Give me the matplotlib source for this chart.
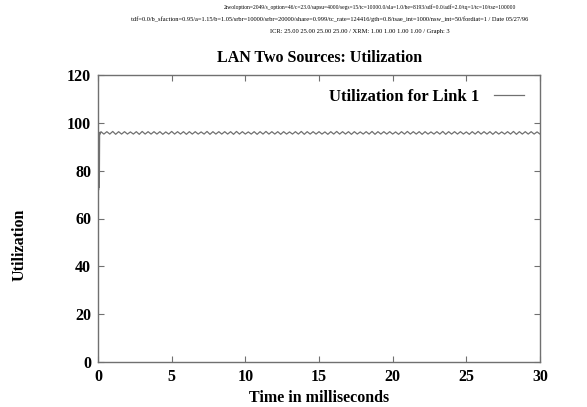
import matplotlib
matplotlib.use("Agg")
import matplotlib.pyplot as plt

plt.rcParams['font.family'] = ['Liberation Serif', 'DejaVu Serif']

header_lines = [
    "2twoloption=2049/s_option=46/c=23.0/sapsu=4000/segs=15/tc=10000.0/sla=1.0/be=8193/sdf=0.0/adf=2.0/tq=1/tc=10/tsz=100000",
    "tdf=0.0/b_sfaction=0.95/a=1.15/b=1.05/srbr=10000/srbr=20000/share=0.999/tc_rate=124416/gth=0.8/tsae_int=1000/nsw_int=50/fordiat=1 / Date 05/27/96",
    "ICR: 25.00 25.00 25.00 25.00 / XRM: 1.00 1.00 1.00 1.00 / Graph: 3",
]
title = "LAN Two Sources: Utilization"
xlabel = "Time in milliseconds"
ylabel = "Utilization"
legend_label = "Utilization for Link 1"
xticks = [0, 5, 10, 15, 20, 25, 30]
yticks = [0, 20, 40, 60, 80, 100, 120]

# start-up transient
time_start = [0.0, 0.05, 0.07, 0.09, 0.11, 0.14]
util_start = [72.0, 72.0, 96.0, 73.0, 96.0, 95.3]

# steady-state oscillation, sampled every 0.2 ms from 0.2 ms
util_steady = [
    96.3, 95.3, 96.3, 95.3, 96.4, 95.2, 96.3, 95.3, 96.3, 95.3,
    96.2, 95.3, 96.3, 95.2, 96.4, 95.3, 96.3, 95.3, 96.3, 95.3,
    96.3, 95.2, 96.2, 95.3, 96.4, 95.3, 96.3, 95.3, 96.3, 95.2,
    96.3, 95.3, 96.3, 95.3, 96.2, 95.3, 96.4, 95.2, 96.3, 95.3,
    96.3, 95.3, 96.3, 95.3, 96.3, 95.2, 96.4, 95.3, 96.3, 95.3,
    96.2, 95.3, 96.3, 95.2, 96.3, 95.3, 96.4, 95.3, 96.3, 95.3,
    96.3, 95.2, 96.3, 95.3, 96.2, 95.3, 96.3, 95.3, 96.4, 95.2,
    96.3, 95.3, 96.3, 95.3, 96.3, 95.3, 96.2, 95.2, 96.3, 95.3,
    96.4, 95.3, 96.3, 95.3, 96.3, 95.2, 96.3, 95.3, 96.2, 95.3,
    96.3, 95.3, 96.4, 95.2, 96.3, 95.3, 96.3, 95.3, 96.3, 95.3,
    96.2, 95.2, 96.3, 95.3, 96.4, 95.3, 96.3, 95.3, 96.3, 95.2,
    96.3, 95.3, 96.2, 95.3, 96.3, 95.3, 96.4, 95.2, 96.3, 95.3,
    96.3, 95.3, 96.3, 95.3, 96.2, 95.2, 96.3, 95.3, 96.4, 95.3,
    96.3, 95.3, 96.3, 95.2, 96.3, 95.3, 96.2, 95.3, 96.3, 95.3,
    96.4, 95.2, 96.3, 95.3, 96.3, 95.3, 96.3, 95.3, 96.2, 95.3,
]
time_steady = [0.2 * (i + 1) for i in range(len(util_steady))]

time = time_start + time_steady
util = util_start + util_steady

fig = plt.figure(figsize=(5.87, 4.07), dpi=100)
ax = fig.add_axes([98/587, 45/407, 442/587, 287/407])

ax.plot(time, util, color='#707070', linewidth=0.9, label=legend_label)
ax.set_xlim(0, 30)
ax.set_ylim(0, 120)
ax.set_xticks(xticks)
ax.set_yticks(yticks)
ax.set_xticklabels([str(v) for v in xticks], fontsize=11.5, fontweight='bold')
ax.set_yticklabels([str(v) for v in yticks], fontsize=11.5, fontweight='bold')
ax.tick_params(direction='in', length=4, width=0.8, color='#707070',
               top=True, right=True, pad=5)
for s in ax.spines.values():
    s.set_color('#707070')
    s.set_linewidth(1.0)

ax.set_xlabel(xlabel, fontsize=11.5, fontweight='bold', labelpad=4)
ax.set_ylabel(ylabel, fontsize=11.5, fontweight='bold')
ax.yaxis.set_label_coords(-0.16, 0.41)

leg = ax.legend(loc='upper right', frameon=False, markerfirst=False,
                prop={'size': 12, 'weight': 'bold'}, handlelength=1.8,
                handletextpad=0.9, bbox_to_anchor=(0.998, 1.005))

fig.text(320/587, 1 - 58/407, title, ha='center', va='center',
         fontsize=11.5, fontweight='bold')
fig.text(370/587, 1 - 7/407, header_lines[0], ha='center', va='center', fontsize=4.0)
fig.text(330/587, 1 - 19/407, header_lines[1], ha='center', va='center', fontsize=4.6)
fig.text(360/587, 1 - 31/407, header_lines[2], ha='center', va='center', fontsize=4.7)

fig.savefig('out.png', dpi=100)
